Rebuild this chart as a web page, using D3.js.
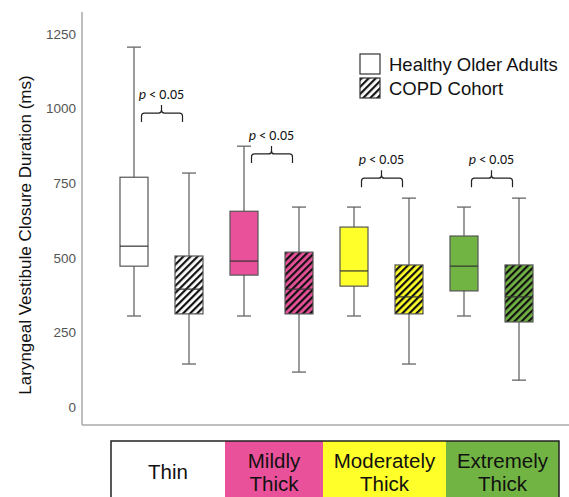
<!DOCTYPE html>
<html><head><meta charset="utf-8">
<script src="https://cdn.jsdelivr.net/npm/d3@7"></script>
<style>body{margin:0;background:#fff;}svg{display:block;font-family:Arial,"Liberation Sans",sans-serif;}</style>
</head><body><svg id="c" width="569" height="497"></svg>
<script>
const categories = ["Thin", "Mildly Thick", "Moderately Thick", "Extremely Thick"];
const catLines = [["Thin"], ["Mildly", "Thick"], ["Moderately", "Thick"], ["Extremely", "Thick"]];
const catColors = ["#ffffff", "#e9519a", "#ffff2a", "#72b443"];
const seriesNames = ["Healthy Older Adults", "COPD Cohort"];
// [min, q1, median, q3, max]
const healthy = [
  [305, 472, 539, 770, 1206],
  [305, 442, 489, 656, 874],
  [305, 405, 456, 603, 670],
  [305, 389, 472, 573, 670]
];
const copd = [
  [144, 312, 395, 506, 784],
  [117, 312, 395, 519, 670],
  [144, 312, 369, 476, 700],
  [90, 285, 369, 476, 700]
];
const yTicks = [0, 250, 500, 750, 1000, 1250];
const pLabels = ["< 0.05", "< 0.05", "< 0.05", "< 0.05"];
const pLevels = [985, 848, 767, 767];

const svg = d3.select("#c");
const y = d3.scaleLinear().domain([0, 1250]).range([407, 34]);
const xg = d3.scaleBand().domain(categories).range([106.5, 546.5]).padding(0);
const xs = d3.scaleBand().domain(seriesNames).range([0, 110]).paddingInner(0).paddingOuter(0);
const boxW = 28, capW = 14;

// hatch patterns
const defs = svg.append("defs");
catColors.forEach((c, i) => {
  const p = defs.append("pattern").attr("id", "h" + i).attr("patternUnits", "userSpaceOnUse")
    .attr("width", 5).attr("height", 5).attr("patternTransform", "rotate(45)");
  p.append("rect").attr("width", 5).attr("height", 5).attr("fill", c);
  p.append("rect").attr("x", 0).attr("width", 2.2).attr("height", 5).attr("fill", "#111");
});

// axes
svg.append("line").attr("x1", 82).attr("x2", 82).attr("y1", 12).attr("y2", 425).attr("stroke", "#a8a8a8").attr("stroke-width", 1.5);
svg.append("line").attr("x1", 82).attr("x2", 569).attr("y1", 425).attr("y2", 425).attr("stroke", "#a8a8a8").attr("stroke-width", 1.5);
const yAxis = svg.append("g").attr("transform", "translate(82,0)")
  .call(d3.axisLeft(y).tickValues(yTicks).tickFormat(d3.format("d")).tickSize(0).tickPadding(6));
yAxis.select(".domain").remove();
yAxis.selectAll("text").attr("fill", "#555").style("font-size", "13.5px").style("font-family", "Arial, 'Liberation Sans', sans-serif");

svg.append("text").attr("transform", "translate(31,235) rotate(-90)").attr("text-anchor", "middle")
  .style("font-size", "17px").attr("fill", "#111").text("Laryngeal Vestibule Closure Duration (ms)");

function drawBox(d, cx, fill) {
  const g = svg.append("g");
  g.append("line").attr("x1", cx).attr("x2", cx).attr("y1", y(d[0])).attr("y2", y(d[4])).attr("stroke", "#666").attr("stroke-width", 1.3);
  [d[0], d[4]].forEach(v => g.append("line").attr("x1", cx - capW / 2).attr("x2", cx + capW / 2).attr("y1", y(v)).attr("y2", y(v)).attr("stroke", "#666").attr("stroke-width", 1.3));
  g.append("rect").attr("x", cx - boxW / 2).attr("y", y(d[3])).attr("width", boxW).attr("height", y(d[1]) - y(d[3]))
    .attr("fill", fill).attr("stroke", "#555").attr("stroke-width", 1.2);
  g.append("line").attr("x1", cx - boxW / 2).attr("x2", cx + boxW / 2).attr("y1", y(d[2])).attr("y2", y(d[2])).attr("stroke", "#333").attr("stroke-width", 1.2);
}

categories.forEach((c, i) => {
  const cxH = xg(c) + xs(seriesNames[0]) + xs.bandwidth() / 2;
  const cxC = xg(c) + xs(seriesNames[1]) + xs.bandwidth() / 2;
  drawBox(healthy[i], cxH, catColors[i]);
  drawBox(copd[i], cxC, "url(#h" + i + ")");
  // brace + p label
  const mid = (cxH + cxC) / 2;
  const by = y(pLevels[i]);
  const L = mid - 20, R = mid + 21, r = 3;
  const path = `M${L},${by + 9} L${L},${by + r} Q${L},${by} ${L + r},${by} L${mid - r},${by} Q${mid},${by} ${mid},${by - r} L${mid},${by - 8} M${mid},${by - r} Q${mid},${by} ${mid + r},${by} L${R - r},${by} Q${R},${by} ${R},${by + r} L${R},${by + 9}`;
  svg.append("path").attr("d", path).attr("fill", "none").attr("stroke", "#222").attr("stroke-width", 1.2);
  const t = svg.append("text").attr("x", mid).attr("y", by - 14).attr("text-anchor", "middle")
    .style("font-size", "14px").style("font-family", "Carlito, Calibri, 'Liberation Sans', sans-serif").attr("fill", "#111");
  t.append("tspan").attr("font-style", "italic").text("p");
  t.append("tspan").text(" " + pLabels[i]);
});

// legend
seriesNames.forEach((s, i) => {
  const ly = 54 + i * 24;
  svg.append("rect").attr("x", 360).attr("y", ly).attr("width", 20).attr("height", 20)
    .attr("fill", i === 0 ? "#fff" : "url(#h0)").attr("stroke", "#333").attr("stroke-width", 1.2);
  svg.append("text").attr("x", 389).attr("y", ly + 17).style("font-size", "18.5px").attr("fill", "#111").text(s);
});

// category table
const cellEdges = [111, 225, 323, 446, 559];
categories.forEach((c, i) => {
  const x0 = cellEdges[i], x1 = cellEdges[i + 1];
  svg.append("rect").attr("x", x0).attr("y", 441).attr("width", x1 - x0).attr("height", 60).attr("fill", catColors[i]);
  const lines = catLines[i];
  lines.forEach((ln, k) => {
    const ty = lines.length === 1 ? 479 : 468 + k * 23;
    svg.append("text").attr("x", (x0 + x1) / 2).attr("y", ty).attr("text-anchor", "middle")
      .style("font-size", "20.5px").attr("fill", "#111").text(ln);
  });
});
svg.append("rect").attr("x", 111).attr("y", 441).attr("width", 448).attr("height", 60).attr("fill", "none").attr("stroke", "#222").attr("stroke-width", 1.5);
</script></body></html>
